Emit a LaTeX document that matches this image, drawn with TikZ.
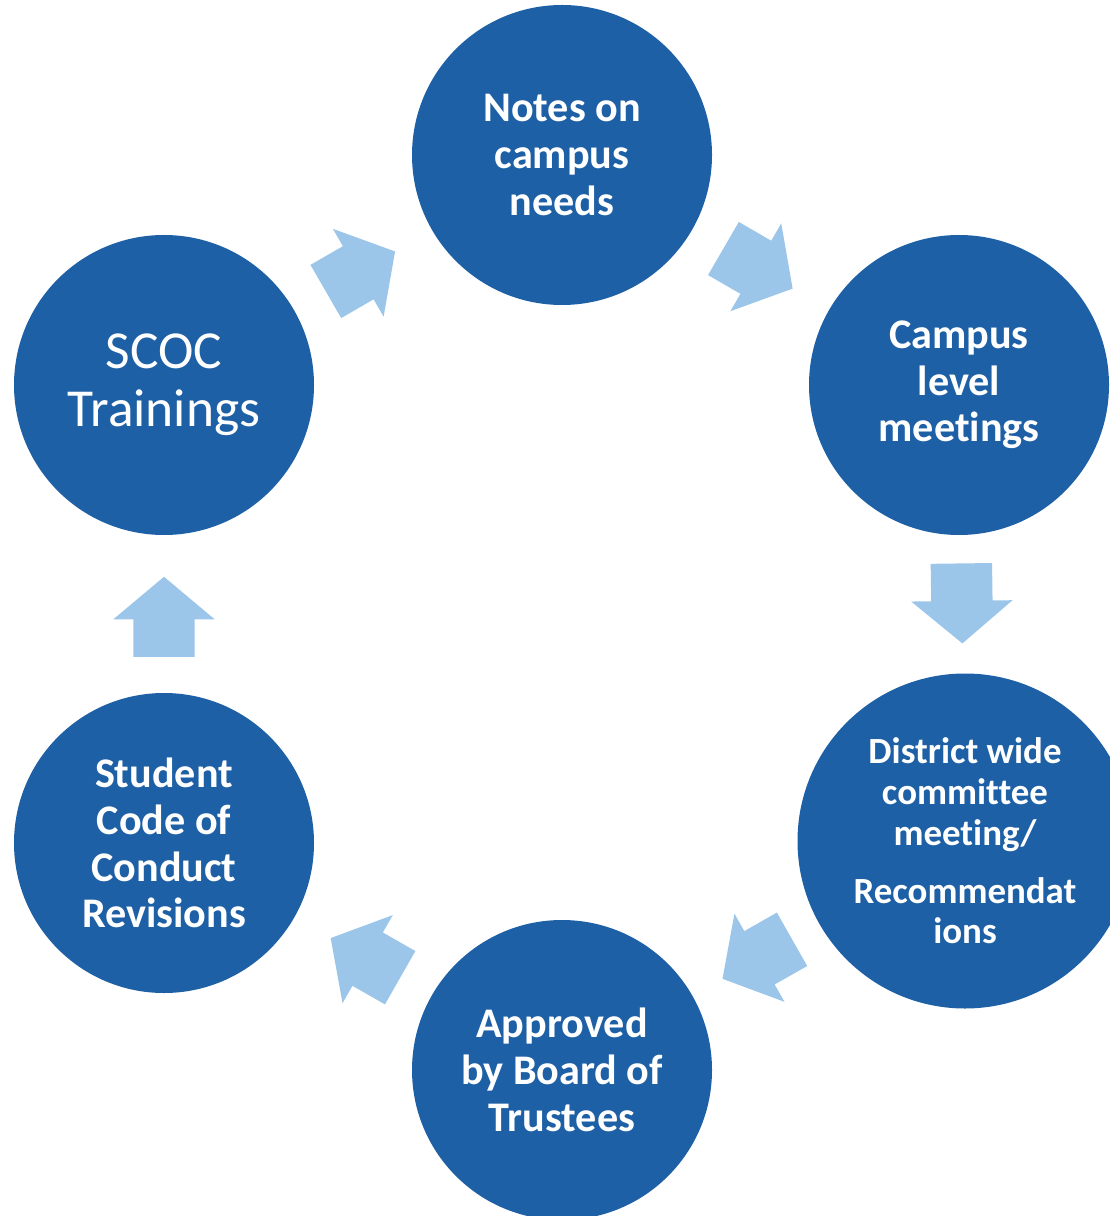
\documentclass[tikz,border=0pt]{standalone}
\usepackage{fontspec}
\setmainfont{Carlito}[Ligatures=NoCommon]
\usetikzlibrary{positioning, shapes.arrows}
\definecolor{phaseblue}{RGB}{30,96,165}
\definecolor{flowblue}{RGB}{155,198,233}

\begin{document}
\begin{tikzpicture}[on grid,
    phase/.style={circle, fill=phaseblue, text=white, minimum size=3cm, inner sep=0pt,
      align=center, font=\bfseries\fontsize{12}{13.3}\selectfont},
    flow/.style={single arrow, fill=flowblue, minimum height=0.8cm, inner xsep=0pt,
      inner ysep=0.3cm, single arrow head extend=0.2cm, single arrow tip angle=100,
      pos=0.4, sloped, allow upside down}]

  \useasboundingbox (0,0) rectangle (11.09,-12.16);

  \node[phase]  (notes)                                       at (5.62,-1.55) {Notes on\\campus\\needs};
  \node[phase]  (campus)   [below right=2.3cm and 3.97cm of notes]           {Campus\\level\\meetings};
  \node[phase]  (scoc)     [below left=2.3cm and 3.98cm of notes]
                           [font=\fontsize{15.2}{16.5}\selectfont]            {SCOC\\Trainings};
  \node[phase, minimum size=3.35cm]
                (district) [below=4.56cm of campus, xshift=0.06cm]
                           [font=\bfseries\fontsize{10.5}{11.6}\selectfont]   {District wide\\committee\\meeting/\\[0.17cm]Recommendat\\ions};
  \node[phase]  (approved) [below=9.15cm of notes]                            {Approved\\by Board of\\Trustees};
  \node[phase]  (student)  [below=4.58cm of scoc]                             {Student\\Code of\\Conduct\\Revisions};

  \path (notes)    -- node[flow] {} (campus)
        (campus)   -- node[flow] {} (district)
        (district) -- node[flow] {} (approved)
        (approved) -- node[flow] {} (student)
        (student)  -- node[flow] {} (scoc)
        (scoc)     -- node[flow] {} (notes);
\end{tikzpicture}
\end{document}
